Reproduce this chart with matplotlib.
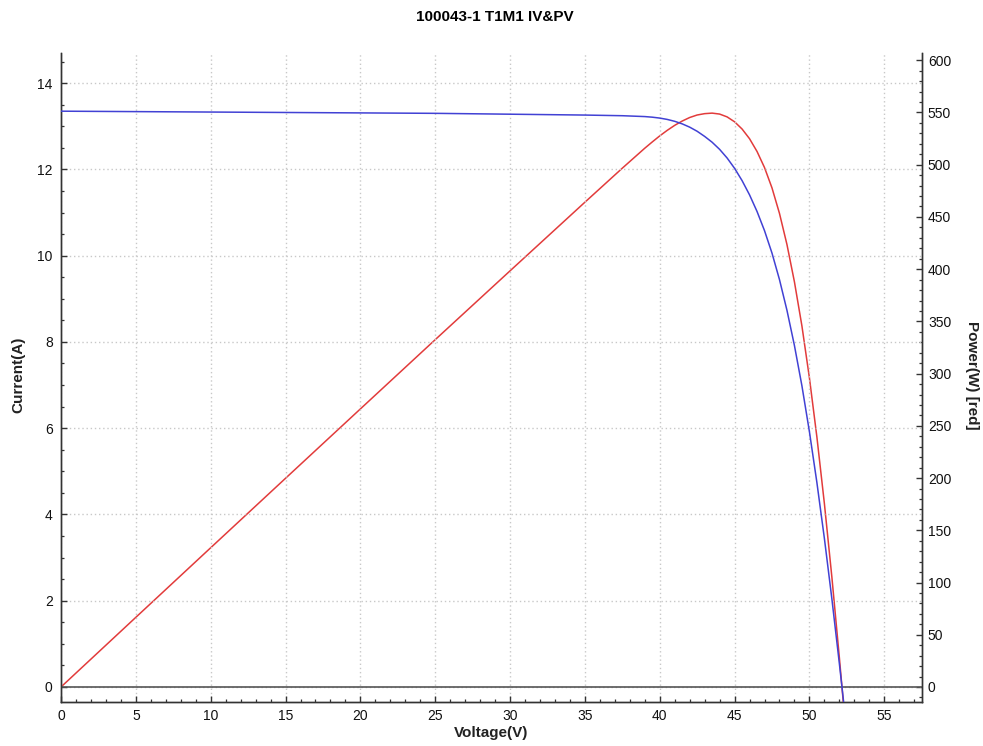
import matplotlib
matplotlib.use('Agg')
import matplotlib.pyplot as plt
from matplotlib.ticker import MultipleLocator

# I-V sweep of the module (volts, amps) and the matching power (watts)
voltage = [0, 5, 10, 15, 20, 25, 30, 35, 37.5, 39.0, 39.5, 40.0, 40.5, 41.0,
           41.5, 42.0, 42.5, 43.0, 43.5, 44.0, 44.5, 45.0, 45.5, 46.0, 46.5,
           47.0, 47.5, 48.0, 48.5, 49.0, 49.5, 50.0, 50.5, 51.0, 51.5, 52.0,
           52.175, 52.4]
current = [13.35, 13.34, 13.33, 13.32, 13.31, 13.30, 13.28, 13.26, 13.245,
           13.225, 13.211, 13.19, 13.159, 13.115, 13.056, 12.98, 12.884,
           12.765, 12.63, 12.465, 12.265, 12.025, 11.741, 11.41, 11.025,
           10.58, 10.059, 9.445, 8.733, 7.915, 6.981, 5.92, 4.739, 3.445,
           2.045, 0.545, 0.0, -0.71]
power = [0, 66.7, 133.3, 199.8, 266.2, 332.5, 398.4, 464.1, 496.7, 515.8,
         521.8, 527.6, 532.9, 537.7, 541.8, 545.2, 547.6, 548.9, 549.4, 548.5,
         545.8, 541.1, 534.2, 524.9, 512.7, 497.3, 477.8, 453.4, 423.6, 387.8,
         345.6, 296.0, 239.3, 175.7, 105.3, 28.3, 0.0, -37.2]

plt.rcParams['font.family'] = ['Liberation Sans', 'DejaVu Sans']

fig = plt.figure(figsize=(9.83, 7.46), dpi=100)
ax = fig.add_axes([0.0621, 0.059, 0.8755, 0.870])
ax2 = ax.twinx()

ax.set_xlim(0, 57.5)
ax.set_ylim(-0.35, 14.7)
ax2.set_ylim(-14.4, 607)

# grid and zero line
ax.grid(True, which='major', linestyle=(0, (1, 2)), color='#c8c8c8',
        linewidth=1.0)
ax.axhline(0, color='#555555', linewidth=1.2, zorder=2)

ax2.plot(voltage, power, color='#e23b3b', linewidth=1.1, zorder=3)
ax.plot(voltage, current, color='#4141d4', linewidth=1.1, zorder=4)
ax.set_zorder(ax2.get_zorder() + 1)
ax.patch.set_visible(False)

ax.xaxis.set_major_locator(MultipleLocator(5))
ax.xaxis.set_minor_locator(MultipleLocator(1))
ax.yaxis.set_major_locator(MultipleLocator(2))
ax.yaxis.set_minor_locator(MultipleLocator(0.5))
ax2.yaxis.set_major_locator(MultipleLocator(50))
ax2.yaxis.set_minor_locator(MultipleLocator(10))

for a in (ax, ax2):
    a.spines['top'].set_visible(False)
    for s in ('left', 'right', 'bottom'):
        a.spines[s].set_color('#333333')
        a.spines[s].set_linewidth(1.0)
    a.tick_params(which='both', direction='in', colors='#333333',
                  labelcolor='#111111', labelsize=10)
    a.tick_params(which='major', length=4.5, width=1.0)
    a.tick_params(which='minor', length=2.2, width=0.9)

ax.tick_params(axis='x', pad=5)
ax.tick_params(axis='y', pad=6)
ax2.tick_params(axis='y', pad=4.5)

fig.text(0.5036, 0.977, '100043-1 T1M1 IV&PV', ha='center', va='center',
         fontsize=11, fontweight='bold')
fig.text(0.4995, 0.0174, 'Voltage(V)', ha='center', va='center',
         fontsize=11, fontweight='bold', color='#222222')
fig.text(0.0183, 0.497, 'Current(A)', ha='center', va='center',
         rotation=90, fontsize=11, fontweight='bold', color='#222222')
fig.text(0.9888, 0.497, 'Power(W) [red]', ha='center', va='center',
         rotation=270, fontsize=11, fontweight='bold', color='#222222')

fig.savefig('out.png', dpi=100, facecolor='white')
